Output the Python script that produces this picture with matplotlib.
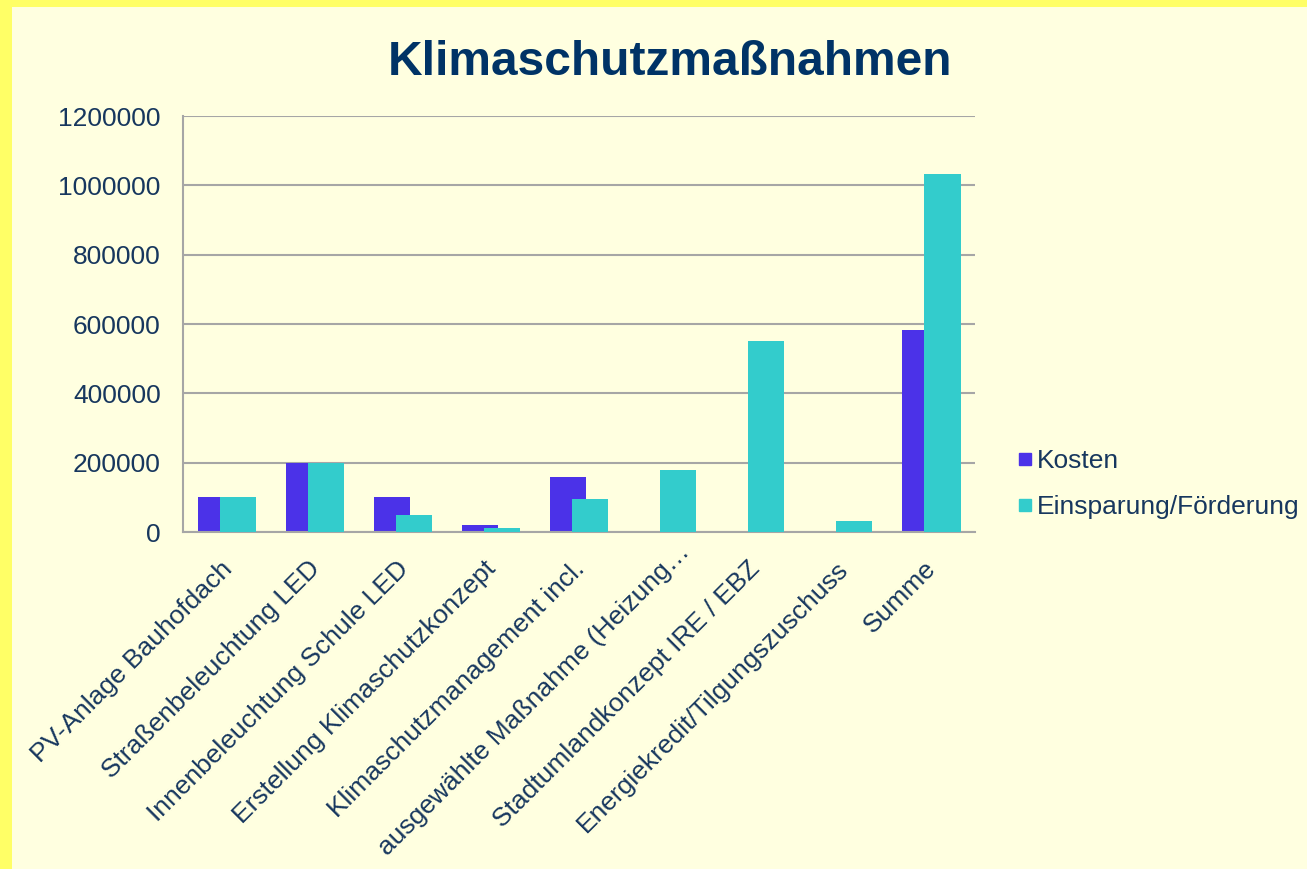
import numpy as np
import matplotlib
matplotlib.use("Agg")
import matplotlib.pyplot as plt
import matplotlib.transforms as mtransforms
from matplotlib.patches import Rectangle
from matplotlib.lines import Line2D

categories = [
    "PV-Anlage Bauhofdach",
    "Straßenbeleuchtung LED",
    "Innenbeleuchtung Schule LED",
    "Erstellung Klimaschutzkonzept",
    "Klimaschutzmanagement incl.",
    "ausgewählte Maßnahme (Heizung…",
    "Stadtumlandkonzept IRE / EBZ",
    "Energiekredit/Tilgungszuschuss",
    "Summe",
]
kosten = [100000, 200000, 102000, 20000, 158000, 0, 3000, 0, 583000]
einsparung = [100000, 200000, 50000, 12000, 94000, 180000, 550000, 32000, 1033000]
yticks = [0, 200000, 400000, 600000, 800000, 1000000, 1200000]

plt.rcParams['font.family'] = ['Liberation Sans', 'DejaVu Sans']
text_col = '#17375E'
cream = '#FFFFE0'

fig = plt.figure(figsize=(13.07, 8.69), dpi=100)
fig.patch.set_facecolor('#FFFF66')
fig.patches.append(Rectangle((12 / 1307, 0), 1, 1 - 7 / 869, transform=fig.transFigure,
                             facecolor=cream, edgecolor='none', zorder=-10))

ax = fig.add_axes([0.140, 0.3878, 0.606, 0.4787])
ax.set_facecolor(cream)
x = np.arange(len(categories))
w = 0.42
ax.bar(x - 0.125, kosten, w, color='#4B32E8', zorder=2)
ax.bar(x + 0.125, einsparung, w, color='#33CCCC', zorder=3)

ax.set_xlim(-0.5, len(categories) - 0.5)
ax.set_ylim(0, 1200000)
ax.set_yticks(yticks)
ax.set_yticklabels([str(v) for v in yticks])
ax.yaxis.grid(True, color='#A6A6A6', linewidth=1.5, zorder=1)
ax.set_axisbelow(True)
for s in ['top', 'right']:
    ax.spines[s].set_visible(False)
ax.spines['left'].set_color('#A6A6A6')
ax.spines['bottom'].set_color('#A6A6A6')
ax.spines['left'].set_linewidth(1.5)
ax.spines['bottom'].set_linewidth(1.5)

ax.set_xticks(x)
ax.set_xticklabels(categories, rotation=45, ha='right', rotation_mode='anchor')
ax.tick_params(axis='y', length=0, pad=16, labelsize=19, labelcolor=text_col)
ax.tick_params(axis='x', length=0, pad=14, labelsize=19, labelcolor=text_col)

# nudge the rotated labels a bit left/down like in the original
for i, lab in enumerate(ax.get_xticklabels()):
    dx, dy = -7, -5
    if i == 5:
        # the truncated label sits further up in the original
        dx, dy = 10, 12
    off = mtransforms.ScaledTranslation(dx / 100, dy / 100, fig.dpi_scale_trans)
    lab.set_transform(lab.get_transform() + off)

fig.text(0.513, 1 - 75 / 869, "Klimaschutzmaßnahmen", ha='center', va='baseline',
         fontsize=34.5, fontweight='bold', color='#003366')

handles = [Line2D([], [], marker='s', linestyle='none', markersize=9, color='#4B32E8'),
           Line2D([], [], marker='s', linestyle='none', markersize=9, color='#33CCCC')]
fig.legend(handles, ['Kosten', 'Einsparung/Förderung'], loc='center left',
           bbox_to_anchor=(1005 / 1307, 1 - 484 / 869), frameon=False,
           fontsize=19, labelcolor=text_col, handlelength=0.5,
           handletextpad=0.2, labelspacing=0.85, borderpad=0)

fig.savefig('out.png', dpi=100, facecolor=fig.get_facecolor())
